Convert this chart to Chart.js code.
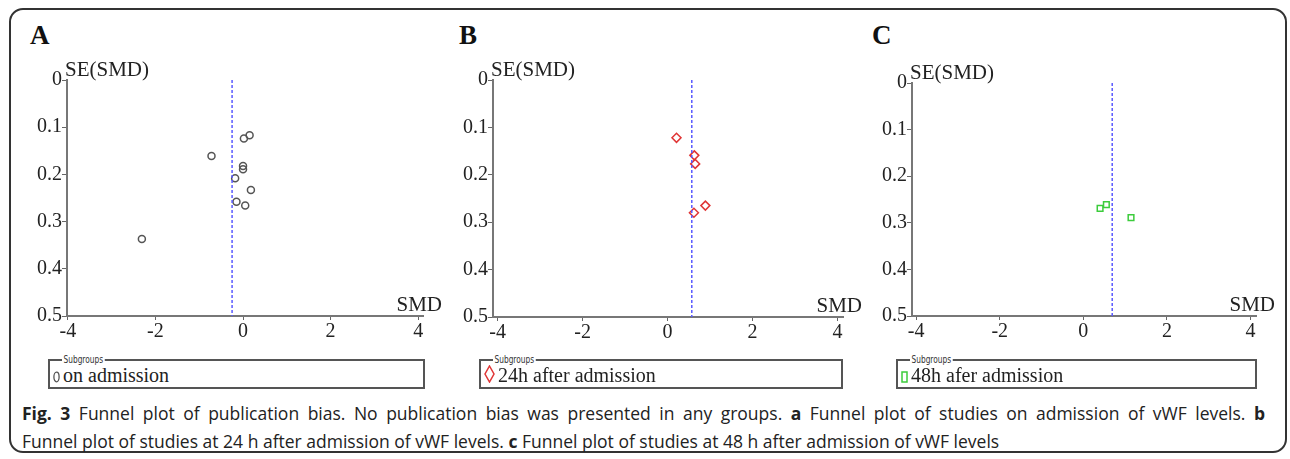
<!DOCTYPE html>
<html>
<head>
<meta charset="utf-8">
<script src="https://cdn.jsdelivr.net/npm/chart.js@4.4.1/dist/chart.umd.min.js"></script>
<style>
  body { margin: 0; background: #fff; width: 1290px; height: 459px; position: relative; overflow: hidden; }
  #frame { position: absolute; left: 9px; top: 8px; width: 1278px; height: 445px; border: 2px solid #333; border-radius: 14px; box-sizing: border-box; }
  .letter { position: absolute; font: bold 27px "Liberation Serif", serif; color: #111; line-height: 1; }
  .wrap { position: absolute; }
  .legend { position: absolute; border: 2px solid #555; box-sizing: border-box; height: 30px; }
  .legend .sub { position: absolute; top: -8px; left: 12px; background: #fff; padding: 0 2px; font: 11px "Liberation Sans Narrow", "DejaVu Sans Condensed", sans-serif; color: #333; transform: scaleX(0.75); transform-origin: left; }
  .legend .item { position: absolute; left: 3px; top: 2px; font: 20px "Liberation Serif", serif; color: #222; line-height: 24px; white-space: nowrap; }
  .legend svg { vertical-align: -1px; margin-right: 3px; }
  #caption { position: absolute; left: 22px; top: 399px; width: 1243px; font: 17.5px "Open Sans", sans-serif; color: #222; line-height: 28px; white-space: nowrap; }
  #caption .l1 { text-align: justify; text-align-last: justify; white-space: normal; }
</style>
</head>
<body>
<div id="frame"></div>
<div class="letter" style="left:30px;top:22px">A</div>
<div class="letter" style="left:459px;top:22px">B</div>
<div class="letter" style="left:872px;top:22px">C</div>

<div class="wrap" style="left:17px;top:60px;width:436px;height:286px"><canvas id="chartA"></canvas></div>
<div class="wrap" style="left:443px;top:60px;width:430px;height:287px"><canvas id="chartB"></canvas></div>
<div class="wrap" style="left:862px;top:63px;width:424px;height:283px"><canvas id="chartC"></canvas></div>

<div class="legend" style="left:48px;top:359px;width:377px"><span class="sub">Subgroups</span><div class="item" id="legA"></div></div>
<div class="legend" style="left:479px;top:359px;width:364px"><span class="sub">Subgroups</span><div class="item" id="legB"></div></div>
<div class="legend" style="left:896px;top:359px;width:361px"><span class="sub">Subgroups</span><div class="item" id="legC"></div></div>

<div id="caption">
  <div class="l1"><b>Fig. 3</b> Funnel plot of publication bias. No publication bias was presented in any groups. <b>a</b> Funnel plot of studies on admission of vWF levels. <b>b</b></div>
  <div>Funnel plot of studies at 24 h after admission of vWF levels. <b>c</b> Funnel plot of studies at 48 h after admission of vWF levels</div>
</div>

<script>
// subgroup names
const subgroups = ['on admission', '24h after admission', '48h afer admission'];

// A: on admission
const smdA = [0.15, 0.02, -0.72, 0.0, 0.0, -0.18, 0.18, -0.15, 0.05, -2.31];
const seA = [0.117, 0.124, 0.161, 0.182, 0.189, 0.208, 0.233, 0.258, 0.266, 0.337];
const pooledA = -0.25;

// B: 24h after admission
const smdB = [0.21, 0.63, 0.65, 0.89, 0.62];
const seB = [0.122, 0.159, 0.177, 0.265, 0.280];
const pooledB = 0.57;

// C: 48h after admission
const smdC = [0.40, 0.55, 1.14];
const seC = [0.269, 0.261, 0.289];
const pooledC = 0.69;

// axis ticks
const xTicks = [-4, -2, 0, 2, 4];
const yTicks = [0, 0.1, 0.2, 0.3, 0.4, 0.5];
const yTitle = 'SE(SMD)';
const xTitle = 'SMD';

const serif = '"Liberation Serif", "Times New Roman", serif';
Chart.defaults.font.family = serif;
Chart.defaults.font.size = 20;
Chart.defaults.color = '#222';

// axis titles drawn next to the axes
const axisTitles = {
  id: 'axisTitles',
  afterDraw(chart) {
    const a = chart.chartArea, ctx = chart.ctx;
    ctx.save();
    ctx.fillStyle = '#222';
    ctx.font = '21px ' + serif;
    ctx.textAlign = 'left';
    ctx.textBaseline = 'alphabetic';
    ctx.fillText(yTitle, a.left - 2, a.top - 4);
    ctx.textAlign = 'right';
    ctx.fillText(xTitle, a.right + 19, a.bottom - 5);
    ctx.restore();
  }
};

function funnel(id, smd, se, pooled, xmin, xmax, pt) {
  const pts = smd.map((x, i) => ({ x: x, y: se[i] }));
  return new Chart(document.getElementById(id), {
    type: 'scatter',
    data: {
      datasets: [
        {
          type: 'line',
          data: [{ x: pooled, y: 0 }, { x: pooled, y: 0.5 }],
          borderColor: '#5a5aff',
          borderWidth: 1.5,
          borderDash: [3, 2],
          pointRadius: 0,
          fill: false
        },
        {
          data: pts,
          pointStyle: pt.style,
          pointRadius: pt.r,
          pointBorderColor: pt.color,
          pointBackgroundColor: 'rgba(0,0,0,0)',
          pointBorderWidth: pt.w
        }
      ]
    },
    options: {
      responsive: true,
      maintainAspectRatio: false,
      animation: false,
      layout: { padding: { left: 0, top: 20, right: 30, bottom: 0 } },
      plugins: { legend: { display: false }, tooltip: { enabled: false } },
      scales: {
        x: {
          type: 'linear',
          min: xmin,
          max: xmax,
          afterBuildTicks: s => { s.ticks = xTicks.map(v => ({ value: v })); },
          afterFit: s => { s.height = 30; },
          border: { color: '#777', width: 2 },
          grid: { drawOnChartArea: false, color: '#666', tickLength: 4 },
          ticks: { color: '#222', font: { family: serif, size: 20 }, padding: 0, maxRotation: 0 }
        },
        y: {
          type: 'linear',
          reverse: true,
          min: 0,
          max: 0.5,
          afterBuildTicks: s => { s.ticks = yTicks.map(v => ({ value: v })); },
          afterFit: s => { s.width = 50; },
          border: { color: '#777', width: 2 },
          grid: { drawOnChartArea: false, color: '#666', tickLength: 5 },
          ticks: { color: '#222', font: { family: serif, size: 20 }, padding: 0, callback: v => String(v) }
        }
      }
    },
    plugins: [axisTitles]
  });
}

funnel('chartA', smdA, seA, pooledA, -4.02, 4.11, { style: 'circle', r: 3.5, color: '#555', w: 1.5 });
funnel('chartB', smdB, seB, pooledB, -4.11, 4.13, { style: 'rectRot', r: 4.5, color: '#e03535', w: 1.5 });
funnel('chartC', smdC, seC, pooledC, -4.1, 4.13, { style: 'rect', r: 4, color: '#3ccc3c', w: 1.5 });

// legend entries
const marks = [
  '<svg width="7" height="12"><ellipse cx="3.5" cy="6" rx="2.6" ry="4.8" fill="none" stroke="#555" stroke-width="1.3"/></svg>',
  '<svg width="11" height="18"><path d="M5.5 1 L10 9 L5.5 17 L1 9 Z" fill="none" stroke="#e03535" stroke-width="1.5"/></svg>',
  '<svg width="7" height="12"><rect x="1" y="1" width="5" height="10" fill="none" stroke="#3ccc3c" stroke-width="1.5"/></svg>'
];
['legA', 'legB', 'legC'].forEach((id, i) => {
  document.getElementById(id).innerHTML = marks[i] + subgroups[i];
});
</script>
</body>
</html>
